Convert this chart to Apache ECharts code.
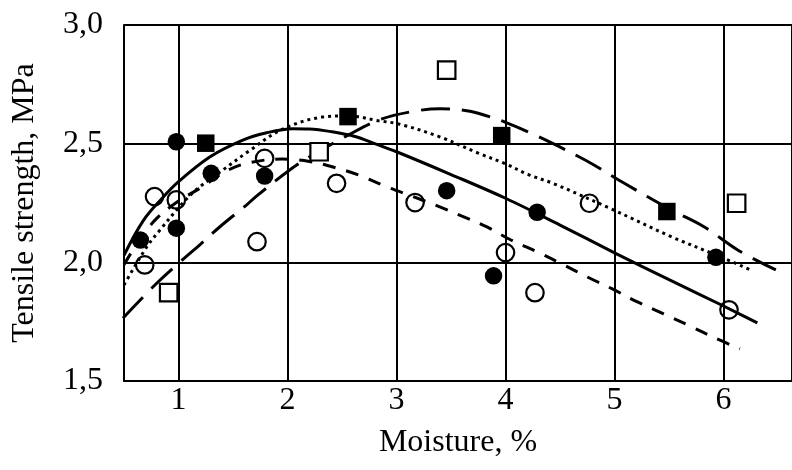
<!DOCTYPE html>
<html>
<head>
<meta charset="utf-8">
<script src="https://cdn.jsdelivr.net/npm/echarts@6/dist/echarts.min.js"></script>
<style>
html,body{margin:0;padding:0;background:#fff;}
#chart{width:792px;height:470px;}
</style>
</head>
<body>
<div id="chart"></div>
<script>
// Measured points (moisture %, tensile strength MPa)
var filledCircles = [[0.65,2.094],[0.98,2.508],[0.98,2.144],[1.30,2.375],[1.79,2.364],[3.46,2.302],[3.89,1.943],[4.29,2.211],[5.93,2.021]];
var openCircles = [[0.78,2.277],[0.98,2.263],[0.69,1.989],[1.79,2.438],[1.72,2.087],[2.45,2.333],[3.17,2.252],[4.0,2.041],[4.27,1.872],[4.77,2.249],[6.05,1.800]];
var filledSquares = [[1.25,2.502],[2.555,2.614],[3.965,2.534],[5.48,2.214]];
var openSquares = [[0.91,1.872],[2.29,2.466],[3.46,2.81],[6.12,2.249]];

// Trend curves
var solidCurve = [[0.5,2.03],[0.68,2.178],[0.85,2.27],[1.0,2.34],[1.29,2.445],[1.59,2.515],[1.8,2.545],[2.05,2.563],[2.2,2.562],[2.41,2.55],[2.62,2.53],[2.8,2.5],[3.0,2.466],[3.5,2.37],[4.0,2.27],[4.5,2.157],[5.0,2.04],[5.5,1.927],[6.0,1.816],[6.31,1.745]];
var shortDashCurve = [[0.5,1.99],[0.65,2.10],[0.8,2.185],[1.0,2.258],[1.2,2.313],[1.44,2.385],[1.65,2.42],[1.95,2.435],[2.2,2.425],[2.43,2.40],[2.67,2.365],[2.9,2.32],[3.15,2.277],[3.38,2.237],[3.6,2.195],[3.83,2.149],[4.05,2.094],[4.3,2.042],[4.53,1.99],[4.76,1.936],[4.98,1.888],[5.21,1.833],[5.45,1.783],[5.69,1.732],[5.92,1.682],[6.15,1.635]];
var dottedCurve = [[0.5,1.905],[0.71,2.066],[0.83,2.136],[1.01,2.235],[1.16,2.305],[1.38,2.38],[1.65,2.47],[1.95,2.56],[2.32,2.612],[2.56,2.617],[2.84,2.596],[3.02,2.583],[3.39,2.53],[3.75,2.46],[4.0,2.415],[4.21,2.37],[4.45,2.33],[4.97,2.225],[5.52,2.108],[5.93,2.031],[6.25,1.968]];
var longDashCurve = [[0.49,1.765],[0.8,1.912],[1.0,1.996],[1.2,2.076],[1.38,2.15],[1.62,2.24],[1.71,2.277],[2.02,2.389],[2.23,2.452],[2.56,2.537],[2.84,2.6],[3.14,2.635],[3.4,2.647],[3.63,2.64],[3.75,2.628],[4.0,2.59],[4.3,2.53],[4.73,2.431],[5.09,2.333],[5.52,2.221],[5.82,2.15],[6.13,2.052],[6.48,1.968]];

var xTickLabels = ['1','2','3','4','5','6'];
var yTickLabels = ['1,5','2,0','2,5','3,0'];

var FONT = '"Liberation Serif","Times New Roman",serif';
var chart = echarts.init(document.getElementById('chart'), null, {renderer:'canvas'});

function lineSeries(data, type, dash){
  return {
    type:'line', data:data, showSymbol:false, smooth:0.35, z:2, silent:true,
    lineStyle:{color:'#000', width:3, type: dash ? dash : type, cap:'butt', opacity:1}
  };
}
function scatterSeries(data, symbol, filled){
  return {
    type:'scatter', data:data, symbol:symbol, symbolSize: 17.5, z:5, silent:true,
    itemStyle: filled ? {color:'#000', borderColor:'#000', borderWidth:0, opacity:1}
                      : {color: symbol==='rect' ? '#fff' : 'rgba(0,0,0,0)', borderColor:'#000', borderWidth:2.2, opacity:1}
  };
}

chart.setOption({
  animation:false,
  backgroundColor:'#fff',
  grid:{left:124, top:25, right:-3, bottom:89, containLabel:false},
  xAxis:{
    type:'value', min:0.5, max:6.628,
    name:'Moisture, %', nameLocation:'middle', nameGap:46,
    nameTextStyle:{color:'#000', fontFamily:FONT, fontSize:32},
    axisLine:{show:true, onZero:false, lineStyle:{color:'#000', width:2}},
    axisTick:{show:false},
    axisLabel:{color:'#000', fontFamily:FONT, fontSize:32, margin:4, showMinLabel:false, showMaxLabel:false,
      formatter:function(v){ var i = xTickLabels.indexOf(String(v)); return i>=0 ? xTickLabels[i] : ''; }},
    splitLine:{show:true, lineStyle:{color:'#000', width:2}}
  },
  yAxis:{
    type:'value', min:1.5, max:3.0, interval:0.5,
    name:'Tensile strength, MPa', nameLocation:'middle', nameGap:83,
    nameTextStyle:{color:'#000', fontFamily:FONT, fontSize:32},
    axisLine:{show:true, onZero:false, lineStyle:{color:'#000', width:2}},
    axisTick:{show:false},
    axisLabel:{color:'#000', fontFamily:FONT, fontSize:32, margin:21,
      formatter:function(v){ var i = Math.round((v-1.5)/0.5); return yTickLabels[i] || ''; }},
    splitLine:{show:true, lineStyle:{color:'#000', width:2}}
  },
  series:[
    lineSeries(solidCurve,'solid'),
    lineSeries(shortDashCurve,'dashed',[13,11]),
    lineSeries(dottedCurve,'dotted',[3,4]),
    lineSeries(longDashCurve,'dashed',[29,12]),
    scatterSeries(filledCircles,'circle',true),
    scatterSeries(openCircles,'circle',false),
    scatterSeries(filledSquares,'rect',true),
    scatterSeries(openSquares,'rect',false)
  ]
});
</script>
</body>
</html>
